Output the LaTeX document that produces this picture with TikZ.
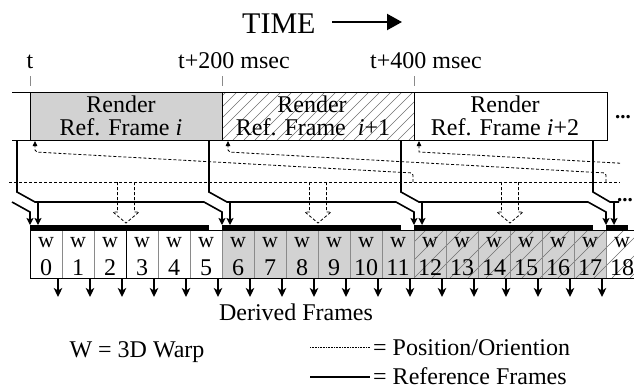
\documentclass[tikz,border=0pt]{standalone}
\usepackage{fontspec}
\setmainfont{Liberation Serif}
\usetikzlibrary{arrows.meta}
\definecolor{boxgray}{HTML}{D2D2D2}
\definecolor{hatchgray}{HTML}{707070}
\definecolor{gridgray}{HTML}{8A8A8A}
\tikzset{
  reffr/.style={line width=1.6pt, line join=miter},
  refarrow/.style={reffr, -{Stealth[length=7pt,width=7pt,inset=1.5pt]}},
  posline/.style={dash pattern=on 3pt off 2pt, line width=0.8pt},
  posarrow/.style={posline, -{Triangle[length=5pt,width=4.5pt]}},
  hatch/.style={hatchgray, line width=0.5pt},
  bigtxt/.style={font=\fontsize{24}{26}\selectfont, inner sep=0pt, anchor=base},
  wtxt/.style={font=\fontsize{22}{24}\selectfont, inner sep=0pt, anchor=base},
  downarrow/.style={line width=1.6pt, -{Stealth[length=9pt,width=8.5pt,inset=2.5pt]}},
  frameline/.style={line width=1pt},
  tick/.style={gridgray, line width=0.8pt},
  legenddot/.style={dash pattern=on 0.8pt off 0.8pt, line width=0.5pt},
  dotstxt/.style={font=\fontsize{21}{24}\selectfont\bfseries, inner sep=0pt, anchor=base}
}
\begin{document}
\begin{tikzpicture}[x=1pt,y=-1pt]
\useasboundingbox (0,0) rectangle (634,389);

% title
\node[font=\fontsize{30}{32}\selectfont, inner sep=0pt, anchor=base west] (time) at (242,33) {TIME};
\coordinate (ta) at (332,22);
\coordinate (tb) at (402,22);
\draw[line width=2.2pt, -{Triangle[length=15pt,width=16pt]}] (ta) -- (tb);

% time labels and ticks
\node[bigtxt] (lt0) at (30,68) {t};
\node[bigtxt, anchor=base west] (lt1) at (178,68) {t+200 msec};
\node[bigtxt, anchor=base west] (lt2) at (370,68) {t+400 msec};
\foreach \x in {30,222,414} \draw[tick] (\x,76) -- (\x,86);

% render boxes
\fill[boxgray] (30,92) rectangle (222,140);
\begin{scope}
  \clip (222,92) rectangle (414,140);
  \foreach \k in {-6,...,18} \draw[hatch] (222+\k*11,140) -- ++(48,-48);
\end{scope}
\draw[frameline] (12,92) -- (607,92) -- (607,140) -- (12,140);
\foreach \x in {30,222,414} \draw[frameline] (\x,92) -- (\x,140);
\node[bigtxt] (r1a) at (121,112) {Render};
\node[bigtxt] (r1b) at (121,135) {Ref. Frame \textit{i}};
\node[bigtxt] (r2a) at (312,112) {Render};
\node[bigtxt] (r2b) at (313,135) {Ref. Frame\hspace{0.5em}\textit{i}+1};
\node[bigtxt] (r3a) at (505,112) {Render};
\node[bigtxt] (r3b) at (505,135) {Ref. Frame \textit{i}+2};
\node[dotstxt] (dots1) at (623,118) {...};

% position / orientation lines
\coordinate (pl) at (9,182);
\coordinate (pr) at (620,182);
\draw[posline] (pl) -- (pr);
\draw[posarrow, rounded corners=2pt] (413,182) -- (413,173) -- (35,152) -- (35,141);
\draw[posarrow, rounded corners=2pt] (606,182) -- (606,173) -- (228,152) -- (228,141);
\draw[posarrow] (620,163.2) -- (419,152) -- (419,141);
\foreach \c in {126,318,510}
  \draw[posline] (\c-8.5,182) -- (\c-8.5,212) -- (\c-13,212) -- (\c,223) -- (\c+13,212) -- (\c+8.5,212) -- (\c+8.5,182);

% reference frame lines
\draw[refarrow] (12,202) -- (30,212) -- (30,225);
\foreach \xe/\nx in {30/222,222/414,414/606}{
  \draw[refarrow] (\xe-13,140) -- (\xe-13,192) -- (\xe+5,202) -- (\nx-18,202) -- (\nx,212) -- (\nx,225);
  \draw[refarrow] (\xe+8,202) -- (\xe+8,225);
  \fill (\xe,225) rectangle (\xe+179,230);
}
\draw[reffr] (593,140) -- (593,192) -- (610,202) -- (619,202);
\draw[refarrow] (614,202) -- (614,225);
\fill (606,225) rectangle (628,230);
\node[dotstxt] (dots2) at (625,201) {...};

% warp cells
\fill[boxgray] (222,230) rectangle (606,278);
\begin{scope}
  \clip (414,230) rectangle (634,278);
  \foreach \k in {-3,...,13} \draw[hatch] (414+\k*18,278) -- ++(48,-48);
\end{scope}
\foreach \k in {1,...,18} \draw[gridgray, line width=0.9pt] (30+32*\k,230) -- (30+32*\k,278);
\draw[frameline] (30,230) -- (30,278);
\draw[frameline] (126,230) -- (126,278);
\draw[frameline] (30,230) -- (634,230);
\draw[frameline] (30,278) -- (634,278);
\foreach \k in {0,...,18}{
  \node[wtxt] (w\k) at (46+32*\k,247) {w};
  \node[bigtxt] (n\k) at (46+32*\k,275) {\k};
}
\foreach \k in {0,...,17}
  \draw[downarrow] (58+32*\k,278) -- (58+32*\k,297);

% captions and legend
\node[bigtxt] (derived) at (296,320) {Derived Frames};
\node[bigtxt] (warp) at (137,357) {W = 3D Warp};
\coordinate (la) at (310,347);
\coordinate (lb) at (370,347);
\draw[legenddot] (la) -- (lb);
\node[bigtxt, anchor=base west] (legpos) at (373,355) {= Position/Oriention};
\coordinate (lc) at (310,377);
\coordinate (ld) at (370,377);
\draw[line width=1.8pt] (lc) -- (ld);
\node[bigtxt, anchor=base west] (legref) at (373,384) {= Reference Frames};
\end{tikzpicture}
\end{document}
